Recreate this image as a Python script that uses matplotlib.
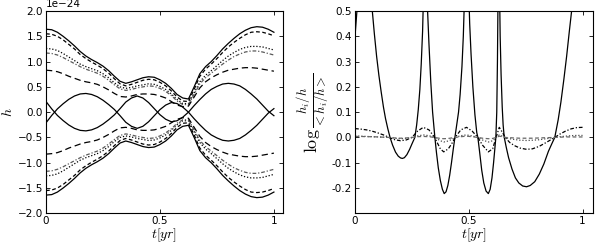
import numpy as np
import matplotlib
matplotlib.use("Agg")
import matplotlib.pyplot as plt

plt.rcParams['mathtext.fontset'] = 'cm'
plt.rcParams['font.size'] = 7.5
plt.rcParams['xtick.direction'] = 'in'
plt.rcParams['ytick.direction'] = 'in'
plt.rcParams['xtick.top'] = True
plt.rcParams['ytick.right'] = True

# ---- left panel: strain h(t), units of 1e-24 ----
t_left = [0.0, 0.025, 0.05, 0.075, 0.1, 0.125, 0.15, 0.175, 0.2, 0.225,
          0.25, 0.275, 0.3, 0.325, 0.35, 0.375, 0.4, 0.425, 0.45, 0.475,
          0.5, 0.525, 0.55, 0.575, 0.6, 0.625, 0.65, 0.675, 0.7, 0.725,
          0.75, 0.775, 0.8, 0.825, 0.85, 0.875, 0.9, 0.925, 0.95, 0.975, 1.0]

# crossing curve (plotted with its mirror)
h_cross = [0.21, 0.065, -0.065, -0.166, -0.254, -0.32, -0.36, -0.37, -0.35, -0.305,
           -0.236, -0.15, -0.053, 0.07, 0.20, 0.28, 0.32, 0.28, 0.19, 0.07,
           -0.05, -0.14, -0.19, -0.17, -0.10, 0.0, 0.13, 0.25, 0.36, 0.45,
           0.51, 0.556, 0.57, 0.556, 0.52, 0.45, 0.36, 0.26, 0.14, 0.02, -0.07]

# envelopes (upper half, lower half is the mirror)
env_solid = [1.64, 1.63, 1.58, 1.50, 1.41, 1.31, 1.20, 1.11, 1.04, 0.98,
             0.91, 0.82, 0.71, 0.61, 0.57, 0.60, 0.64, 0.68, 0.70, 0.69,
             0.64, 0.57, 0.47, 0.35, 0.28, 0.26, 0.50, 0.76, 0.90, 1.00,
             1.12, 1.25, 1.36, 1.46, 1.55, 1.62, 1.67, 1.69, 1.68, 1.64, 1.58]
env_dash = [1.55, 1.54, 1.50, 1.43, 1.34, 1.25, 1.14, 1.06, 0.99, 0.93,
            0.86, 0.77, 0.66, 0.56, 0.52, 0.55, 0.59, 0.63, 0.65, 0.64,
            0.59, 0.52, 0.42, 0.30, 0.22, 0.21, 0.45, 0.71, 0.85, 0.95,
            1.06, 1.18, 1.29, 1.38, 1.46, 1.53, 1.58, 1.59, 1.58, 1.55, 1.51]
env_dot = [1.26, 1.25, 1.22, 1.16, 1.09, 1.02, 0.95, 0.90, 0.86, 0.82,
           0.76, 0.68, 0.58, 0.50, 0.47, 0.49, 0.52, 0.54, 0.56, 0.55,
           0.51, 0.45, 0.36, 0.25, 0.17, 0.17, 0.38, 0.60, 0.73, 0.82,
           0.92, 1.02, 1.11, 1.18, 1.24, 1.28, 1.30, 1.30, 1.29, 1.26, 1.23]
env_dashdot = [1.17, 1.16, 1.13, 1.08, 1.02, 0.96, 0.90, 0.85, 0.81, 0.77,
               0.71, 0.63, 0.54, 0.46, 0.43, 0.45, 0.48, 0.50, 0.52, 0.51,
               0.47, 0.41, 0.33, 0.22, 0.15, 0.15, 0.35, 0.56, 0.68, 0.77,
               0.86, 0.95, 1.03, 1.10, 1.15, 1.19, 1.21, 1.21, 1.19, 1.16, 1.13]
env_longdash = [0.83, 0.82, 0.80, 0.76, 0.71, 0.67, 0.63, 0.60, 0.58, 0.55,
                0.50, 0.44, 0.37, 0.31, 0.30, 0.32, 0.35, 0.36, 0.36, 0.35,
                0.32, 0.28, 0.21, 0.14, 0.11, 0.12, 0.30, 0.48, 0.60, 0.68,
                0.74, 0.79, 0.83, 0.85, 0.87, 0.88, 0.88, 0.87, 0.85, 0.83, 0.81]

# ---- right panel ----
t_log = [0.0, 0.005, 0.01, 0.02, 0.04, 0.06, 0.07, 0.076, 0.085, 0.095,
         0.105, 0.115, 0.125, 0.134, 0.144, 0.154, 0.165, 0.178, 0.19, 0.2,
         0.208, 0.217, 0.228, 0.24, 0.25, 0.258, 0.263, 0.271, 0.278, 0.285,
         0.291, 0.297, 0.302, 0.308, 0.314, 0.319, 0.325, 0.333, 0.341, 0.346,
         0.351, 0.358, 0.366, 0.375, 0.384, 0.392, 0.4, 0.408, 0.416, 0.424,
         0.432, 0.439, 0.447, 0.455, 0.462, 0.47, 0.476, 0.481, 0.49, 0.499,
         0.504, 0.51, 0.518, 0.527, 0.535, 0.54, 0.548, 0.557, 0.566, 0.576,
         0.586, 0.594, 0.602, 0.609, 0.615, 0.619, 0.623, 0.626, 0.629, 0.632,
         0.635, 0.638, 0.642, 0.647, 0.651, 0.656, 0.665, 0.675, 0.69, 0.705,
         0.72, 0.737, 0.754, 0.77, 0.79, 0.81, 0.83, 0.85, 0.865, 0.878,
         0.893, 0.905, 0.918, 0.93, 0.942, 0.952, 0.965, 0.98, 1.0]
log_solid = [0.40, 0.46, 0.52, 0.75, 1.0, 0.75, 0.58, 0.5, 0.41, 0.32,
             0.245, 0.18, 0.12, 0.075, 0.035, 0.0, -0.03, -0.058, -0.074, -0.081,
             -0.083, -0.08, -0.068, -0.047, -0.026, -0.01, 0.0, 0.05, 0.11, 0.19,
             0.29, 0.42, 0.6, 1.0, 0.7, 0.5, 0.37, 0.22, 0.1, 0.05,
             0.0, -0.06, -0.12, -0.17, -0.205, -0.222, -0.215, -0.19, -0.15, -0.1,
             -0.045, 0.0, 0.05, 0.1, 0.17, 0.28, 0.4, 0.55, 1.0, 0.6,
             0.45, 0.33, 0.2, 0.09, 0.02, 0.0, -0.06, -0.13, -0.18, -0.212,
             -0.222, -0.205, -0.16, -0.1, -0.04, 0.0, 0.1, 0.3, 0.6, 1.0,
             0.6, 0.4, 0.25, 0.12, 0.05, 0.0, -0.04, -0.08, -0.125, -0.16,
             -0.18, -0.192, -0.195, -0.19, -0.175, -0.145, -0.105, -0.055, -0.025, 0.0,
             0.07, 0.14, 0.23, 0.32, 0.42, 0.5, 0.62, 0.78, 1.0]

t_small = [0.0, 0.025, 0.05, 0.075, 0.1, 0.125, 0.15, 0.175, 0.2, 0.225,
           0.25, 0.275, 0.3, 0.325, 0.35, 0.375, 0.39, 0.41, 0.425, 0.44,
           0.465, 0.49, 0.515, 0.54, 0.56, 0.586, 0.605, 0.62, 0.634, 0.648,
           0.66, 0.68, 0.7, 0.725, 0.754, 0.78, 0.81, 0.84, 0.878, 0.9,
           0.925, 0.95, 0.975, 1.0]
log_dashdot = [0.035, 0.033, 0.03, 0.025, 0.018, 0.01, 0.0, -0.009, -0.013, -0.01,
               0.0, 0.025, 0.04, 0.03, 0.0, -0.045, -0.057, -0.045, -0.025, 0.0,
               0.03, 0.04, 0.025, 0.0, -0.03, -0.057, -0.045, 0.0, 0.04, 0.02,
               0.0, -0.02, -0.032, -0.042, -0.047, -0.045, -0.035, -0.02, 0.0, 0.013,
               0.025, 0.034, 0.039, 0.04]
log_dot = [0.006, 0.005, 0.004, 0.003, 0.002, 0.001, 0.0, -0.003, -0.005, -0.004,
           0.0, 0.006, 0.01, 0.007, 0.0, -0.013, -0.018, -0.014, -0.008, 0.0,
           0.007, 0.01, 0.006, 0.0, -0.01, -0.018, -0.013, 0.0, 0.01, 0.005,
           0.0, -0.005, -0.008, -0.011, -0.012, -0.011, -0.009, -0.005, 0.0, 0.003,
           0.005, 0.007, 0.008, 0.008]
log_dash = [0.004, 0.004, 0.003, 0.003, 0.002, 0.001, 0.0, -0.002, -0.003, -0.002,
            0.0, 0.003, 0.004, 0.003, 0.0, -0.004, -0.005, -0.004, -0.002, 0.0,
            0.003, 0.005, 0.003, 0.0, -0.003, -0.005, -0.004, 0.0, 0.005, 0.003,
            0.0, -0.001, -0.002, -0.003, -0.003, -0.003, -0.002, -0.001, 0.0, 0.001,
            0.002, 0.002, 0.002, 0.002]

fig = plt.figure(figsize=(6.0, 2.47), dpi=100)
ax1 = fig.add_axes([0.0767, 0.1364, 0.395, 0.819])
ax2 = fig.add_axes([0.5917, 0.1364, 0.397, 0.819])

tl = np.array(t_left)
scale = 1e-24
styles = [
    (env_solid, dict(color='k', ls='-', lw=0.9)),
    (env_dash, dict(color='k', ls=(0, (3, 2)), lw=0.9)),
    (env_dot, dict(color='k', ls=(0, (1, 1.5)), lw=0.9)),
    (env_dashdot, dict(color='0.35', ls=(0, (3, 1.5, 1, 1.5)), lw=0.9)),
    (env_longdash, dict(color='k', ls=(0, (5, 3)), lw=0.9)),
]
for vals, kw in styles:
    v = np.array(vals) * scale
    ax1.plot(tl, v, **kw)
    ax1.plot(tl, -v, **kw)
hc = np.array(h_cross) * scale
ax1.plot(tl, hc, color='k', lw=0.9)
ax1.plot(tl, -hc, color='k', lw=0.9)

ax1.set_xlim(0, 1.04)
ax1.set_ylim(-2e-24, 2e-24)
ax1.set_yticks(np.arange(-2.0, 2.01, 0.5) * scale)
ax1.set_xticks([0, 0.5, 1])
ax1.set_xticklabels(['0', '0.5', '1'])
ax1.set_xlabel(r'$t[yr]$', fontsize=10, labelpad=0)
ax1.set_ylabel(r'$h$', fontsize=10, labelpad=2)

ax2.plot(t_log, log_solid, color='k', lw=0.9)
ax2.plot(t_small, log_dashdot, color='k', ls=(0, (3, 1.5, 1, 1.5)), lw=0.9)
ax2.plot(t_small, log_dot, color='0.3', ls=(0, (1, 1.5)), lw=0.9)
ax2.plot(t_small, log_dash, color='0.4', ls=(0, (3, 2)), lw=0.9)
ax2.set_xlim(0, 1.047)
ax2.set_ylim(-0.3, 0.5)
ax2.set_yticks([-0.2, -0.1, 0.0, 0.1, 0.2, 0.3, 0.4, 0.5])
ax2.set_yticklabels(['%.1f' % v for v in [-0.2, -0.1, 0.0, 0.1, 0.2, 0.3, 0.4, 0.5]])
ax2.set_xticks([0, 0.5, 1])
ax2.set_xticklabels(['0', '0.5', '1'])
ax2.set_xlabel(r'$t[yr]$', fontsize=10, labelpad=0)
ax2.set_ylabel(r'$\log\frac{h_i/h}{<h_i/h>}$', fontsize=13, labelpad=0)

for ax in (ax1, ax2):
    ax.tick_params(length=3, width=0.6, pad=2)
    for s in ax.spines.values():
        s.set_linewidth(0.8)

fig.savefig('out.png', dpi=100)
